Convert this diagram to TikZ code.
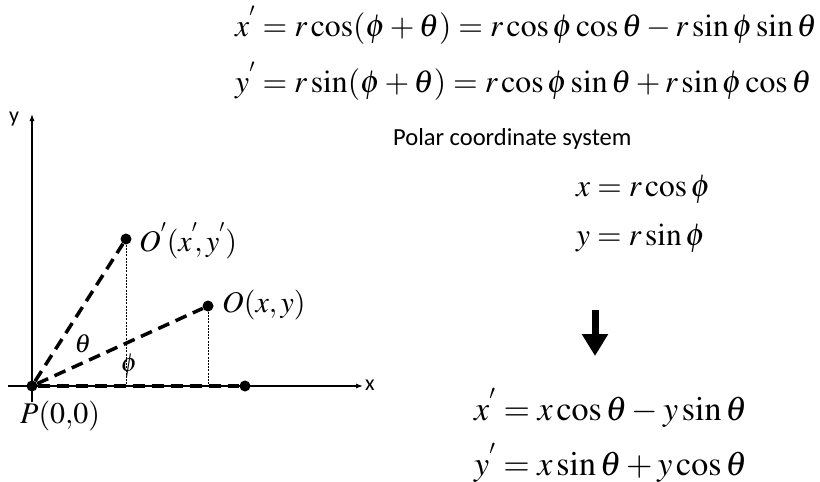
\documentclass[tikz,border=0pt]{standalone}
\usepackage{mathptmx}
\usepackage{fontspec}
\setmainfont{Liberation Serif}
\newfontfamily\calib{Carlito}
\usetikzlibrary{arrows.meta}
\begin{document}
\begin{tikzpicture}[x=1pt,y=-1pt,
  dot/.style={circle,fill=black,inner sep=0pt,minimum size=11pt},
  axis/.style={line width=1.1pt,-{Latex[length=7pt,width=5pt]}},
  ray/.style={line width=3.5pt,dash pattern=on 12pt off 7pt},
  drop/.style={line width=0.7pt,dash pattern=on 2pt off 1.2pt},
  lbl/.style={inner sep=0pt,font=\fontsize{30}{34}\selectfont},
  glbl/.style={inner sep=0pt,font=\fontsize{26}{30}\selectfont},
  eq/.style={inner sep=0pt,anchor=west,font=\fontsize{31.7}{38}\selectfont},
  eqp/.style={inner sep=0pt,anchor=west,font=\fontsize{31.5}{38}\selectfont},
  eqr/.style={inner sep=0pt,anchor=west,font=\fontsize{34}{40}\selectfont},
  sans/.style={inner sep=0pt,font=\calib\fontsize{22}{26}\selectfont},
  title/.style={inner sep=0pt,font=\calib\fontsize{24.5}{28}\selectfont}]
\useasboundingbox (0,0) rectangle (820,482);
% axes
\coordinate (xs) at (8,386);
\coordinate (xe) at (363,386);
\coordinate (ys) at (32,402);
\coordinate (ye) at (32,114);
\draw[axis] (xs) -- (xe);
\draw[axis] (ys) -- (ye);
\node[sans,anchor=west] (xl) at (365,385) {x};
\node[sans] (yl) at (14,119) {y};
% points
\node[dot] (P) at (32,386) {};
\node[dot] (Op) at (126,239) {};
\node[dot] (O) at (208,306) {};
\node[dot] (X) at (245,386) {};
\coordinate (Opf) at (126,386);
\coordinate (Of) at (208,386);
\draw[ray] (P) -- (Op);
\draw[ray] (P) -- (O);
\draw[ray] (P) -- (X);
\draw[drop] (Op) -- (Opf);
\draw[drop] (O) -- (Of);
% labels
\node[lbl,anchor=west] (lOp) at (139,241) {$O^{'}(x^{'}\!,y^{'})$};
\node[lbl,anchor=west] (lO) at (222,305) {$O(x,y)$};
\node[lbl,anchor=west] (lP) at (20,416) {$P(0{,}0)$};
\node[glbl] (th) at (83,344) {$\theta$};
\node[glbl] (ph) at (129,366) {$\phi$};
% top equations
\node[eq] (e1) at (235,25) {$x^{'}=r\cos(\phi+\theta)=r\cos\phi\cos\theta-r\sin\phi\sin\theta$};
\node[eq] (e2) at (235,81) {$y^{'}=r\sin(\phi+\theta)=r\cos\phi\sin\theta+r\sin\phi\cos\theta$};
% polar
\node[title,anchor=west] (pol) at (393,139) {Polar coordinate system};
\node[eqp] (p1) at (576,189) {$x=r\cos\phi$};
\node[eqp] (p2) at (576,238) {$y=r\sin\phi$};
% arrow
\coordinate (a1) at (595,310);
\coordinate (a2) at (595,356);
\draw[line width=7pt,-{Triangle[width=25pt,length=22pt]}] (a1) -- (a2);
% result
\node[eqr] (r1) at (474,408) {$x^{'}=x\cos\theta-y\sin\theta$};
\node[eqr] (r2) at (474,463) {$y^{'}=x\sin\theta+y\cos\theta$};
\end{tikzpicture}
\end{document}
